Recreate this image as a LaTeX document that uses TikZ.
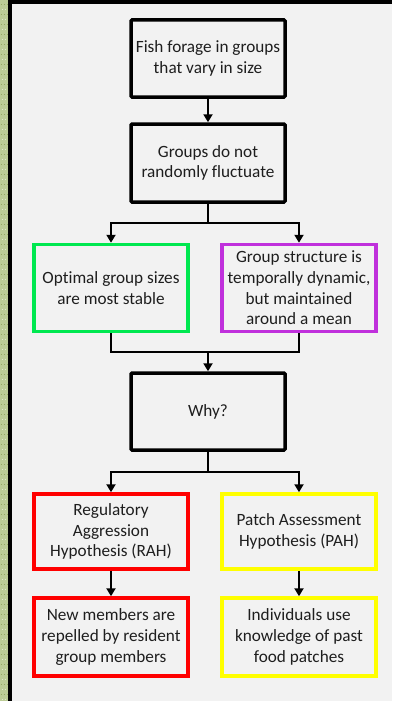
\documentclass[tikz,border=0pt]{standalone}
\usepackage{fontspec}
\setmainfont{Carlito}[Ligatures=CommonOff]
\usetikzlibrary{arrows.meta}
\definecolor{bgcol}{RGB}{242,242,242}
\definecolor{txtcol}{RGB}{30,30,30}
\definecolor{boxgreen}{RGB}{0,232,80}
\definecolor{boxpurple}{RGB}{192,48,220}
\definecolor{boxred}{RGB}{255,0,0}
\definecolor{boxyellow}{RGB}{255,255,0}
\definecolor{stripcol}{RGB}{188,204,150}
\definecolor{stripdot}{RGB}{150,170,100}
\definecolor{stripdot2}{RGB}{225,232,205}
\tikzset{
  flowbox/.style={draw, line width=3.5pt, fill=bgcol, text=txtcol, inner sep=0pt,
    minimum width=154pt, align=center,
    font=\fontsize{17.2pt}{20.7pt}\selectfont},
  blackbox/.style={flowbox, draw=black, rounded corners=1pt, minimum height=77pt},
  colbox/.style={flowbox, minimum height=87pt},
  conn/.style={line width=2.7pt, draw=black},
  arr/.style={conn, -{Triangle[length=8pt,width=9pt]}}
}
\begin{document}
\begin{tikzpicture}[x=1pt,y=-1pt]
\useasboundingbox (0,0) rectangle (392,701);
\fill[bgcol] (0,0) rectangle (392,701);
% left textured strip and frame
\fill[stripcol] (0,0) rectangle (8,701);
\foreach \yy in {4,14,...,700}{
  \draw[stripdot, line width=0.8pt, dash pattern=on 1pt off 2pt] (1,\yy) -- (8,\yy);
}
\foreach \yy in {9,19,...,700}{
  \draw[stripdot2, line width=0.8pt, dash pattern=on 1pt off 2pt] (2,\yy) -- (8,\yy);
}
\fill[black] (7.5,0) rectangle (12,701);
\fill[black] (7.5,0) rectangle (392,4.3);
% nodes
\node[blackbox] (b1) at (208,58.5) {Fish forage in groups\\that vary in size};
\node[blackbox, minimum height=78pt] (b2) at (208,163) {Groups do not\\randomly fluctuate};
\node[colbox, draw=boxgreen] (g) at (111,288) {Optimal group sizes\\are most stable};
\node[colbox, draw=boxpurple] (p) at (299,288) {Group structure is\\temporally dynamic,\\but maintained\\around a mean};
\node[blackbox] (why) at (208,411.5) {Why?};
\node[colbox, draw=boxred, minimum height=75pt] (r1) at (111,531.5) {Regulatory\\Aggression\\Hypothesis (RAH)};
\node[colbox, draw=boxyellow, minimum height=75pt] (y1) at (299,531.5) {Patch Assessment\\Hypothesis (PAH)};
\node[colbox, draw=boxred, minimum height=78pt] (r2) at (111,637) {New members are\\repelled by resident\\group members};
\node[colbox, draw=boxyellow, minimum height=78pt] (y2) at (299,637) {Individuals use\\knowledge of past\\food patches};
% connectors
\coordinate (s1) at (208,223);
\coordinate (s2) at (208,352);
\coordinate (s3) at (208,472);
\draw[arr] (b1.south) -- (b2.north);
\draw[conn] (b2.south) -- (s1);
\draw[arr] (s1) -| (g.north);
\draw[arr] (s1) -| (p.north);
\draw[conn] (g.south) |- (s2);
\draw[conn] (p.south) |- (s2);
\draw[arr] (s2) -- (why.north);
\draw[conn] (why.south) -- (s3);
\draw[arr] (s3) -| (r1.north);
\draw[arr] (s3) -| (y1.north);
\draw[arr] (r1.south) -- (r2.north);
\draw[arr] (y1.south) -- (y2.north);
\end{tikzpicture}
\end{document}
